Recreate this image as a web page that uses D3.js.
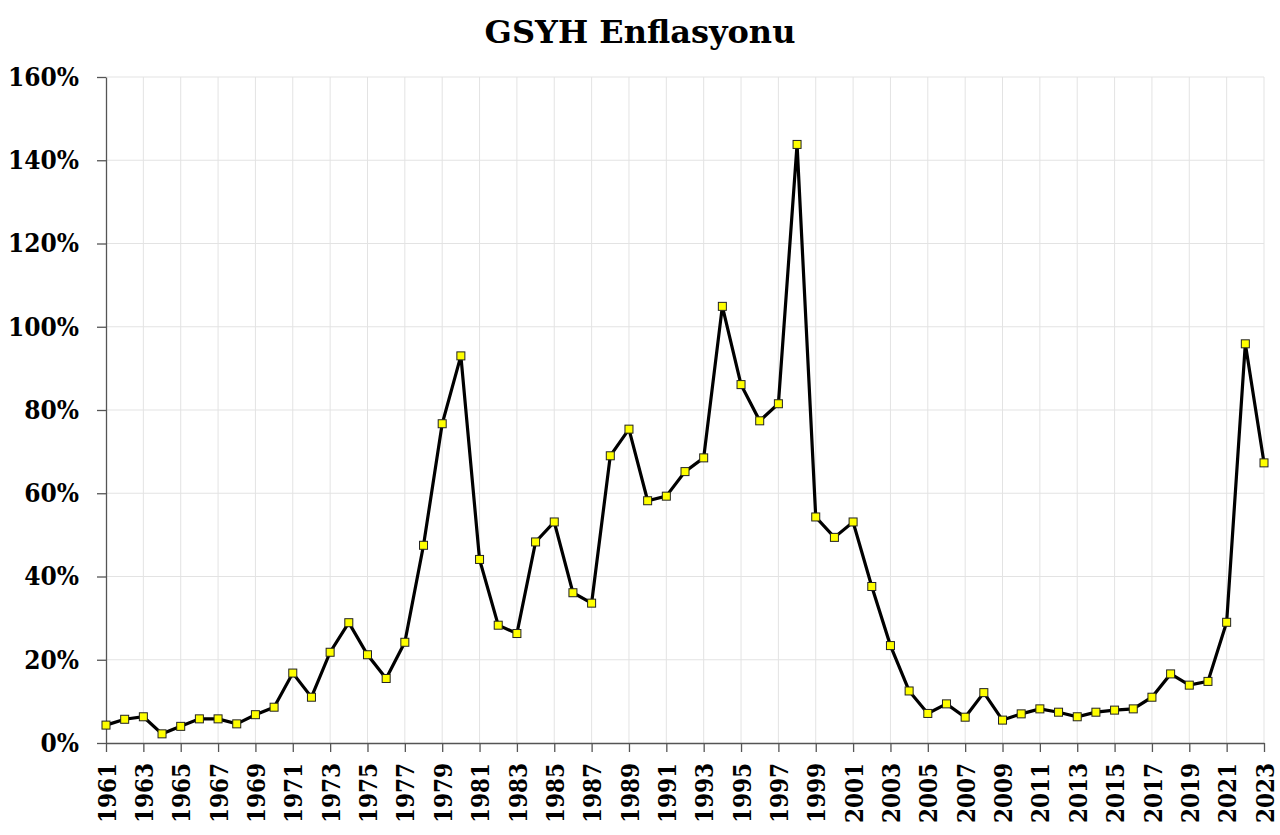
<!DOCTYPE html>
<html><head><meta charset="utf-8">
<script src="https://cdn.jsdelivr.net/npm/d3@7"></script>
<style>
html,body{margin:0;padding:0;background:#fff;}
svg{display:block;}
text{font-family:"DejaVu Serif",serif;font-weight:bold;fill:#000;}
.tl{font-family:"DejaVu Serif Condensed","DejaVu Serif",serif;font-stretch:condensed;font-weight:bold;}
</style></head>
<body>
<svg id="chart" width="1280" height="835"></svg>
<script>
const title = "GSYH Enflasyonu";
const years = d3.range(1961, 2024);
const inflation = [
  4.3, 5.7, 6.3, 2.2, 4.0, 5.8, 5.8, 4.6, 6.8, 8.6,
  16.8, 11.0, 21.8, 28.9, 21.2, 15.5, 24.2, 47.5, 76.7, 93.0,
  44.1, 28.3, 26.3, 48.3, 53.1, 36.1, 33.6, 69.0, 75.4, 58.2,
  59.3, 65.2, 68.5, 104.9, 86.1, 77.4, 81.5, 143.8, 54.3, 49.4,
  53.1, 37.6, 23.4, 12.5, 7.1, 9.4, 6.2, 12.1, 5.5, 7.0,
  8.2, 7.4, 6.3, 7.4, 7.9, 8.2, 11.0, 16.6, 13.9, 14.8,
  29.0, 95.9, 67.3
];
const yTicks = [0, 20, 40, 60, 80, 100, 120, 140, 160];
const xTicks = d3.range(1961, 2024, 2);

const data = years.map((y, i) => ({year: y, value: inflation[i]}));
const svg = d3.select("#chart");
const m = {left: 106, right: 16, top: 77, bottom: 92};
const W = 1280, H = 835;

const x = d3.scaleLinear().domain([1961, 2023]).range([m.left, W - m.right]);
const y = d3.scaleLinear().domain([0, 160]).range([H - m.bottom, m.top]);

// grid
svg.append("g").selectAll("line.h").data(yTicks.filter(d => d > 0)).join("line")
  .attr("x1", x(1961)).attr("x2", x(2023))
  .attr("y1", d => y(d)).attr("y2", d => y(d))
  .attr("stroke", "#e3e3e3").attr("stroke-width", 1);
svg.append("g").selectAll("line.v").data(xTicks.filter(d => d > 1961)).join("line")
  .attr("x1", d => x(d)).attr("x2", d => x(d))
  .attr("y1", y(0)).attr("y2", y(160))
  .attr("stroke", "#e3e3e3").attr("stroke-width", 1);

// axes
const yAxis = svg.append("g").attr("transform", `translate(${x(1961)},0)`)
  .call(d3.axisLeft(y).tickValues(yTicks).tickFormat(d => d + "%").tickSize(9).tickPadding(18).tickSizeOuter(0));
yAxis.attr("font-family", null).attr("font-size", null);
yAxis.select(".domain").attr("stroke", "#555").attr("stroke-width", 1.3);
yAxis.selectAll(".tick line").attr("stroke", "#555").attr("stroke-width", 1.3);
yAxis.selectAll("text").attr("class", "tl").style("font-size", "26px").attr("fill", "#000");

const xAxis = svg.append("g").attr("transform", `translate(0,${y(0)})`)
  .call(d3.axisBottom(x).tickValues(xTicks).tickFormat(d3.format("d")).tickSize(9).tickSizeOuter(0));
xAxis.attr("font-family", null).attr("font-size", null);
xAxis.select(".domain").attr("stroke", "#555").attr("stroke-width", 1.3);
xAxis.selectAll(".tick line").attr("stroke", "#555").attr("stroke-width", 1.3);
xAxis.selectAll("text").attr("class", "tl")
  .style("font-size", "24px").attr("fill", "#000")
  .attr("text-anchor", "end").attr("transform", "rotate(-90)")
  .attr("x", -20).attr("y", 0).attr("dy", "0.38em");

// line
svg.append("path").datum(data)
  .attr("fill", "none").attr("stroke", "#000").attr("stroke-width", 3.2).attr("stroke-linejoin", "miter")
  .attr("d", d3.line().x(d => x(d.year)).y(d => y(d.value)));

// markers
const s = 8;
svg.append("g").selectAll("rect").data(data).join("rect")
  .attr("x", d => x(d.year) - s / 2).attr("y", d => y(d.value) - s / 2)
  .attr("width", s).attr("height", s)
  .attr("fill", "#ffff00").attr("stroke", "#222").attr("stroke-width", 1);

// title
svg.append("text").attr("x", 640).attr("y", 43).attr("text-anchor", "middle")
  .style("font-size", "32px").text(title);
</script>
</body></html>
